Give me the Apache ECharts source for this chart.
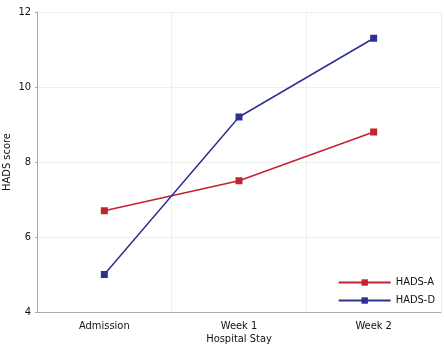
<!DOCTYPE html>
<html>
<head>
<meta charset="utf-8">
<script src="https://cdn.jsdelivr.net/npm/echarts@6/dist/echarts.min.js"></script>
<style>
  html, body { margin: 0; padding: 0; background: #fff; }
  #chart { width: 444px; height: 354px; }
</style>
</head>
<body>
<div id="chart"></div>
<script>
var categories = ['Admission', 'Week 1', 'Week 2'];
var hadsA = [6.7, 7.5, 8.8];
var hadsD = [5.0, 9.2, 11.3];

var font = '"DejaVu Sans Condensed", sans-serif';
var chart = echarts.init(document.getElementById('chart'));
chart.setOption({
  animation: false,
  textStyle: { fontFamily: font },
  grid: { left: 37, right: 3, top: 12, bottom: 42, containLabel: false, outerBoundsMode: 'none' },
  legend: {
    orient: 'vertical',
    right: 4,
    bottom: 43,
    itemWidth: 52,
    itemHeight: 8,
    itemGap: 7,
    textStyle: { fontFamily: font, fontSize: 11, color: '#111' },
    data: ['HADS-A', 'HADS-D']
  },
  xAxis: {
    type: 'category',
    data: categories,
    name: 'Hospital Stay',
    nameLocation: 'middle',
    nameGap: 22,
    nameMoveOverlap: false,
    nameTextStyle: { fontFamily: font, fontSize: 11, color: '#111' },
    axisLine: { lineStyle: { color: '#aaa' } },
    axisTick: { show: false },
    axisLabel: { fontFamily: font, fontSize: 11, color: '#111', margin: 9 },
    splitLine: { show: true, lineStyle: { color: '#eee' } }
  },
  yAxis: {
    type: 'value',
    min: 4,
    max: 12,
    interval: 2,
    name: 'HADS score',
    nameLocation: 'middle',
    nameGap: 24,
    nameMoveOverlap: false,
    nameTextStyle: { fontFamily: font, fontSize: 11, color: '#111' },
    axisLine: { show: true, lineStyle: { color: '#aaa' } },
    axisTick: { show: true, length: 2, lineStyle: { color: '#aaa' } },
    axisLabel: { fontFamily: font, fontSize: 11, color: '#111', margin: 6 },
    splitLine: { show: true, lineStyle: { color: '#eee' } }
  },
  series: [
    {
      name: 'HADS-A',
      type: 'line',
      data: hadsA,
      symbol: 'rect',
      symbolSize: 7,
      color: '#c1232f',
      lineStyle: { width: 1.5 }
    },
    {
      name: 'HADS-D',
      type: 'line',
      data: hadsD,
      symbol: 'rect',
      symbolSize: 7,
      color: '#2e3192',
      lineStyle: { width: 1.5 }
    }
  ]
});
</script>
</body>
</html>
